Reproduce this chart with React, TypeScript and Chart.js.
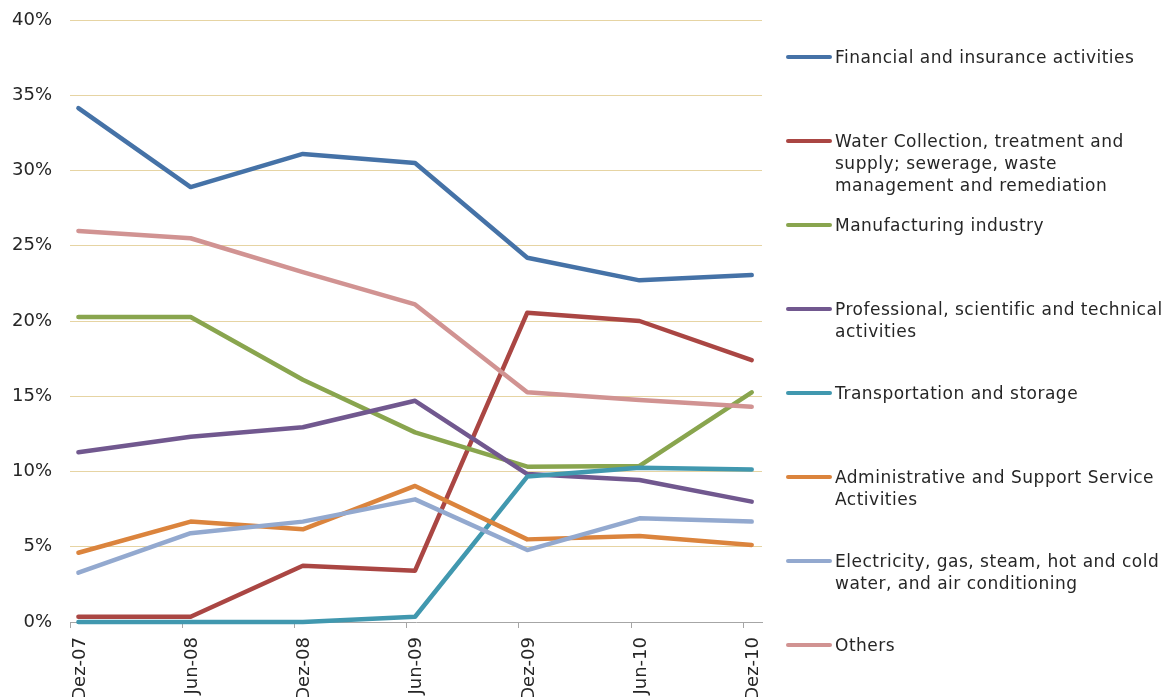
import React, { useEffect, useRef } from "react";
import { Chart, registerables } from "chart.js";

Chart.register(...registerables);

const categories = ["Dez-07", "Jun-08", "Dez-08", "Jun-09", "Dez-09", "Jun-10", "Dez-10"];
const monthsPerStep = 6;
const midMonth = 0.45;
const yTicks = [0, 5, 10, 15, 20, 25, 30, 35, 40];

const financial = [34.15, 28.9, 31.1, 30.5, 24.2, 22.7, 23.05];
const water = [0.35, 0.35, 3.74, 3.41, 20.55, 20.0, 17.4];
const manufacturing = [20.27, 20.27, 16.1, 12.6, 10.32, 10.37, 15.26];
const professional = [11.28, 12.31, 12.94, 14.7, 9.83, 9.43, 8.0];
const transportation = [0, 0, 0, 0.35, 9.66, 10.25, 10.14];
const administrative = [4.6, 6.67, 6.16, 9.04, 5.49, 5.71, 5.12];
const electricity = [3.28, 5.9, 6.67, 8.15, 4.78, 6.89, 6.67];
const others = [25.98, 25.5, 23.25, 21.1, 15.26, 14.75, 14.3];

const seriesNames = [
  ["Financial and insurance activities"],
  ["Water Collection, treatment and", "supply; sewerage, waste", "management and remediation"],
  ["Manufacturing industry"],
  ["Professional, scientific and technical", "activities"],
  ["Transportation and storage"],
  ["Administrative and Support Service", "Activities"],
  ["Electricity, gas, steam, hot and cold", "water, and air conditioning"],
  ["Others"],
];
const seriesValues = [financial, water, manufacturing, professional, transportation, administrative, electricity, others];
const seriesColors = ["#4572A7", "#AA4643", "#89A54E", "#71588F", "#4198AF", "#DB843D", "#93A9CF", "#D19392"];

const FONT = "'DejaVu Sans', Verdana, sans-serif";

export default function App() {
  const canvasRef = useRef<HTMLCanvasElement | null>(null);

  useEffect(() => {
    if (!canvasRef.current) return;
    const n = seriesValues.length;
    const chart = new Chart(canvasRef.current, {
      type: "line",
      data: {
        datasets: seriesValues.map((vals, i) => ({
          label: seriesNames[i].join(" "),
          data: vals.map((v, k) => ({ x: k * monthsPerStep + midMonth, y: v })),
          borderColor: seriesColors[i],
          backgroundColor: seriesColors[i],
          borderWidth: 4.5,
          pointRadius: 0,
          tension: 0,
          borderCapStyle: "round",
          borderJoinStyle: "round",
          clip: false,
          order: n - i,
        })),
      },
      options: {
        animation: false,
        responsive: false,
        layout: { padding: { left: 0, right: 407, top: 20, bottom: 0 } },
        plugins: { legend: { display: false }, tooltip: { enabled: false } },
        scales: {
          x: {
            type: "linear",
            min: 0,
            max: (categories.length - 1) * monthsPerStep + 1,
            afterBuildTicks: (scale: any) => {
              scale.ticks = categories.map((_, k) => ({ value: k * monthsPerStep }));
            },
            afterFit: (scale: any) => {
              scale.height = 75;
              scale.paddingLeft = 0;
              scale.paddingRight = 0;
            },
            grid: {
              drawOnChartArea: false,
              drawTicks: true,
              tickLength: 6,
              color: "#A6A6A6",
            },
            border: { display: true, color: "#A6A6A6", width: 1 },
            ticks: {
              minRotation: 90,
              maxRotation: 90,
              autoSkip: false,
              labelOffset: 10,
              padding: 9,
              color: "#262626",
              font: { family: FONT, size: 18 },
              callback: (v: any) => categories[Math.round(Number(v) / monthsPerStep)] ?? "",
            },
          },
          y: {
            min: 0,
            max: 40,
            afterBuildTicks: (scale: any) => {
              scale.ticks = yTicks.map((v) => ({ value: v }));
            },
            afterFit: (scale: any) => {
              scale.width = 70;
              scale.paddingTop = 0;
              scale.paddingBottom = 0;
            },
            grid: {
              drawTicks: false,
              color: (ctx: any) => (ctx.tick && ctx.tick.value === 0 ? "rgba(0,0,0,0)" : "#E6D4A3"),
              lineWidth: 1,
            },
            border: { display: false },
            ticks: {
              padding: 18,
              color: "#262626",
              font: { family: FONT, size: 18 },
              callback: (v: any) => `${v}%`,
            },
          },
        },
      },
    });
    return () => chart.destroy();
  }, []);

  return (
    <div style={{ position: "fixed", left: 0, top: 0, width: 1169, height: 697, background: "#fff", overflow: "hidden" }}>
      <canvas ref={canvasRef} width={1169} height={697} style={{ position: "absolute", left: 0, top: 0 }} />
      {seriesNames.map((lines, i) => {
        const center = 57 + 84 * i;
        return (
          <React.Fragment key={i}>
            <div
              style={{
                position: "absolute",
                left: 786,
                top: center - 2,
                width: 46,
                height: 4,
                borderRadius: 2,
                background: seriesColors[i],
              }}
            />
            <div
              style={{
                position: "absolute",
                left: 835,
                top: center - 11,
                fontFamily: FONT,
                fontSize: 17,
                letterSpacing: "0.5px",
                lineHeight: "22px",
                color: "#262626",
                whiteSpace: "nowrap",
              }}
            >
              {lines.map((l, k) => (
                <div key={k}>{l}</div>
              ))}
            </div>
          </React.Fragment>
        );
      })}
    </div>
  );
}
